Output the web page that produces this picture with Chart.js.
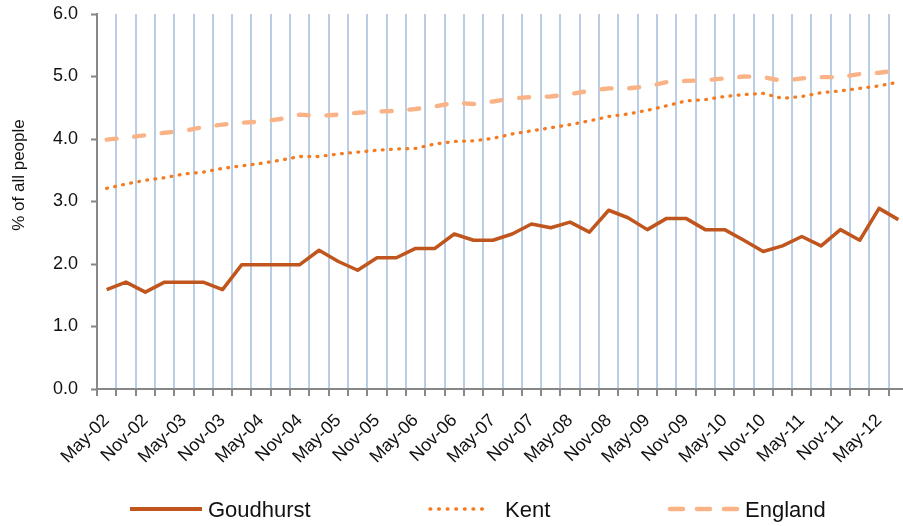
<!DOCTYPE html>
<html>
<head>
<meta charset="utf-8">
<script src="https://cdn.jsdelivr.net/npm/chart.js@4.4.0/dist/chart.umd.min.js"></script>
<style>
    body { margin: 0; background: #fff; }
    #wrap { width: 903px; height: 526px; overflow: hidden; position: relative; }
</style>
</head>
<body>
<div id="wrap"><canvas id="chart" width="915" height="526"></canvas></div>
<script>
// quarterly categories, only every second one gets a label on the axis
const quarters = [
    'May-02', 'Aug-02', 'Nov-02', 'Feb-03', 'May-03', 'Aug-03', 'Nov-03', 'Feb-04',
    'May-04', 'Aug-04', 'Nov-04', 'Feb-05', 'May-05', 'Aug-05', 'Nov-05', 'Feb-06',
    'May-06', 'Aug-06', 'Nov-06', 'Feb-07', 'May-07', 'Aug-07', 'Nov-07', 'Feb-08',
    'May-08', 'Aug-08', 'Nov-08', 'Feb-09', 'May-09', 'Aug-09', 'Nov-09', 'Feb-10',
    'May-10', 'Aug-10', 'Nov-10', 'Feb-11', 'May-11', 'Aug-11', 'Nov-11', 'Feb-12',
    'May-12', 'Aug-12'
];

const goudhurst = [
    1.59, 1.71, 1.55, 1.71, 1.71, 1.71, 1.59, 1.99, 1.99, 1.99, 1.99, 2.22, 2.04, 1.90,
    2.10, 2.10, 2.25, 2.25, 2.48, 2.38, 2.38, 2.48, 2.64, 2.58, 2.67, 2.51, 2.86, 2.74,
    2.55, 2.73, 2.73, 2.55, 2.55, 2.38, 2.20, 2.29, 2.44, 2.29, 2.55, 2.38, 2.89, 2.71
];

const kent = [
    3.21, 3.28, 3.34, 3.38, 3.44, 3.47, 3.53, 3.57, 3.61, 3.66, 3.72, 3.72, 3.76, 3.79,
    3.82, 3.84, 3.85, 3.92, 3.96, 3.97, 4.01, 4.08, 4.13, 4.18, 4.23, 4.29, 4.36, 4.40,
    4.46, 4.53, 4.61, 4.63, 4.68, 4.71, 4.73, 4.65, 4.68, 4.74, 4.77, 4.81, 4.85, 4.91
];

const england = [
    3.99, 4.02, 4.06, 4.10, 4.13, 4.19, 4.23, 4.26, 4.28, 4.32, 4.39, 4.37, 4.39, 4.42,
    4.44, 4.45, 4.48, 4.52, 4.58, 4.56, 4.60, 4.65, 4.67, 4.68, 4.72, 4.77, 4.81, 4.81,
    4.84, 4.91, 4.93, 4.94, 4.97, 5.00, 4.99, 4.93, 4.97, 4.99, 4.99, 5.04, 5.06, 5.10
];

const yTicks = [0, 1, 2, 3, 4, 5, 6];

const fontFamily = "'Liberation Sans', Arial, sans-serif";
const osaBarva = '#878787';

// legend + rotated y title drawn by hand, Excel style
const vlastniLegenda = {
    id: 'vlastniLegenda',
    afterDraw(chart) {
        const ctx = chart.ctx;
        ctx.save();

        ctx.fillStyle = '#111';
        ctx.font = '17px ' + fontFamily;
        ctx.translate(19, 175);
        ctx.rotate(-Math.PI / 2);
        ctx.textAlign = 'center';
        ctx.textBaseline = 'middle';
        ctx.fillText('% of all people', 0, 0);
        ctx.setTransform(1, 0, 0, 1, 0, 0);

        const polozky = [
            { x: 130, w: 72, tx: 208, dash: [], cap: 'butt', lw: 4 },
            { x: 428, w: 60, tx: 505, dash: [0.8, 7.8], cap: 'round', lw: 3.3 },
            { x: 668, w: 70, tx: 745, dash: [13, 14], cap: 'round', lw: 4.5 }
        ];
        const y = 509;
        chart.data.datasets.forEach((ds, i) => {
            const p = polozky[i];
            ctx.beginPath();
            ctx.strokeStyle = ds.borderColor;
            ctx.lineWidth = p.lw;
            ctx.lineCap = p.cap;
            ctx.setLineDash(p.dash);
            ctx.moveTo(p.x + (p.cap === 'round' ? 2 : 0), y);
            ctx.lineTo(p.x + p.w, y);
            ctx.stroke();

            ctx.setLineDash([]);
            ctx.fillStyle = '#111';
            ctx.font = '22px ' + fontFamily;
            ctx.textAlign = 'left';
            ctx.textBaseline = 'alphabetic';
            ctx.fillText(ds.label, p.tx, y + 8);
        });
        ctx.restore();
    }
};

document.addEventListener('DOMContentLoaded', () => {
    const ctx = document.getElementById('chart').getContext('2d');

    new Chart(ctx, {
        type: 'line',
        data: {
            labels: quarters,
            datasets: [
                {
                    label: 'Goudhurst',
                    data: goudhurst,
                    borderColor: '#c0561d',
                    borderWidth: 3.5,
                    borderJoinStyle: 'round',
                    pointRadius: 0,
                    tension: 0
                },
                {
                    label: 'Kent',
                    data: kent,
                    borderColor: '#f47b20',
                    borderWidth: 3.3,
                    borderDash: [0.8, 7.4],
                    borderCapStyle: 'round',
                    pointRadius: 0,
                    tension: 0
                },
                {
                    label: 'England',
                    data: england,
                    borderColor: '#f9b387',
                    borderWidth: 4.4,
                    borderDash: [10, 17.7],
                    borderCapStyle: 'round',
                    pointRadius: 0,
                    tension: 0
                }
            ]
        },
        options: {
            responsive: false,
            animation: false,
            layout: { padding: { top: 14, right: 7, bottom: 0, left: 0 } },
            plugins: {
                legend: { display: false },
                tooltip: { enabled: false }
            },
            scales: {
                x: {
                    offset: true,
                    grid: {
                        offset: true,
                        color: '#b9cde5',
                        lineWidth: 2,
                        tickLength: 7,
                        tickColor: osaBarva,
                        tickWidth: 2
                    },
                    border: { color: osaBarva, width: 2 },
                    ticks: {
                        autoSkip: false,
                        maxRotation: 45,
                        minRotation: 45,
                        padding: 14,
                        color: '#111',
                        font: { family: fontFamily, size: 18 },
                        callback: function (val, index) {
                            return index % 2 === 0 ? this.getLabelForValue(val) : '';
                        }
                    },
                    afterFit: scale => {
                        scale.height = 137;
                        scale.paddingLeft = 0;
                        scale.paddingRight = 0;
                    }
                },
                y: {
                    min: 0,
                    max: 6,
                    afterBuildTicks: scale => { scale.ticks = yTicks.map(v => ({ value: v })); },
                    grid: {
                        drawOnChartArea: false,
                        tickLength: 6,
                        tickColor: osaBarva,
                        tickWidth: 2
                    },
                    border: { color: osaBarva, width: 2 },
                    ticks: {
                        padding: 13,
                        color: '#111',
                        font: { family: fontFamily, size: 18 },
                        callback: v => v.toFixed(1)
                    },
                    afterFit: scale => {
                        scale.width = 97;
                        scale.paddingTop = 0;
                        scale.paddingBottom = 0;
                    }
                }
            }
        },
        plugins: [vlastniLegenda]
    });
});
</script>
</body>
</html>
